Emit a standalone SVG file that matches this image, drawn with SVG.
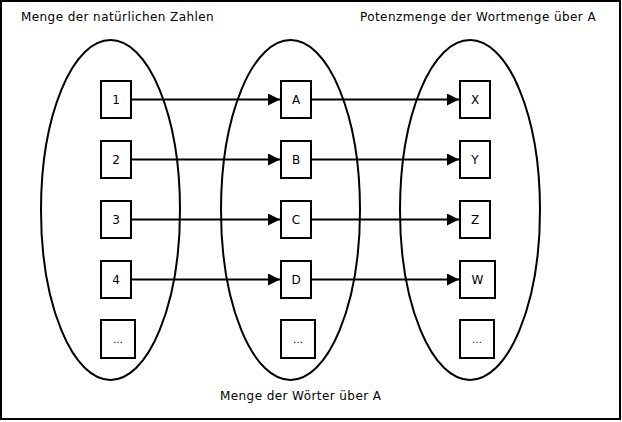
<svg xmlns="http://www.w3.org/2000/svg" width="622" height="422" viewBox="0 0 622 422">
<defs>
<marker id="ah" viewBox="0 0 12 12" refX="12" refY="6" markerWidth="12" markerHeight="12" markerUnits="userSpaceOnUse" orient="auto">
<path d="M0,0 L12,6 L0,12 Z" fill="#000"/>
</marker>
<style>
.set{fill:none;stroke:#000;stroke-width:2}
.box{fill:#fff;stroke:#000;stroke-width:2}
.lbl{font-family:"DejaVu Sans",sans-serif;font-size:12px;letter-spacing:0.42px;fill:#000}
.t{font-family:"DejaVu Sans",sans-serif;font-size:12px;fill:#000;text-anchor:middle}
.d{font-family:"DejaVu Sans",sans-serif;font-size:10px;fill:#000;text-anchor:middle}
.e{stroke:#000;stroke-width:2;fill:none;marker-end:url(#ah)}
</style>
</defs>
<rect x="1" y="1" width="619" height="418" fill="#fff" stroke="#000" stroke-width="2"/>
<g id="sets">
<ellipse class="set" cx="110.5" cy="210" rx="69.5" ry="170"/>
<ellipse class="set" cx="290.5" cy="210" rx="69.5" ry="170"/>
<ellipse class="set" cx="470" cy="210" rx="70" ry="170"/>
</g>
<text class="lbl" x="21" y="21">Menge der natürlichen Zahlen</text>
<text class="lbl" x="360" y="21">Potenzmenge der Wortmenge über A</text>
<text class="lbl" x="220" y="400">Menge der Wörter über A</text>
<g id="connectors">
<line class="e" x1="131" y1="99.5" x2="280" y2="99.5"/>
<line class="e" x1="131" y1="159.5" x2="280" y2="159.5"/>
<line class="e" x1="131" y1="219.5" x2="280" y2="219.5"/>
<line class="e" x1="131" y1="279.5" x2="280" y2="279.5"/>
<line class="e" x1="311" y1="99.5" x2="459" y2="99.5"/>
<line class="e" x1="311" y1="159.5" x2="459" y2="159.5"/>
<line class="e" x1="311" y1="219.5" x2="459" y2="219.5"/>
<line class="e" x1="311" y1="279.5" x2="459" y2="279.5"/>
</g>
<g id="n1"><rect class="box" x="101" y="81" width="30" height="37"/><text class="t" x="116" y="104">1</text></g>
<g id="n2"><rect class="box" x="101" y="141" width="30" height="37"/><text class="t" x="116" y="164">2</text></g>
<g id="n3"><rect class="box" x="101" y="201" width="30" height="37"/><text class="t" x="116" y="224">3</text></g>
<g id="n4"><rect class="box" x="101" y="261" width="30" height="37"/><text class="t" x="116" y="284">4</text></g>
<g id="n5"><rect class="box" x="101" y="320" width="34" height="38"/><text class="d" x="118" y="343">…</text></g>
<g id="nA"><rect class="box" x="281" y="81" width="30" height="37"/><text class="t" x="296" y="104">A</text></g>
<g id="nB"><rect class="box" x="281" y="141" width="30" height="37"/><text class="t" x="296" y="164">B</text></g>
<g id="nC"><rect class="box" x="281" y="201" width="30" height="37"/><text class="t" x="296" y="224">C</text></g>
<g id="nD"><rect class="box" x="281" y="261" width="30" height="37"/><text class="t" x="296" y="284">D</text></g>
<g id="nE"><rect class="box" x="281" y="320" width="34" height="38"/><text class="d" x="298" y="343">…</text></g>
<g id="nX"><rect class="box" x="460" y="81" width="30" height="37"/><text class="t" x="475" y="104">X</text></g>
<g id="nY"><rect class="box" x="460" y="141" width="30" height="37"/><text class="t" x="475" y="164">Y</text></g>
<g id="nZ"><rect class="box" x="460" y="201" width="30" height="37"/><text class="t" x="475" y="224">Z</text></g>
<g id="nW"><rect class="box" x="460" y="261" width="35" height="37"/><text class="t" x="477.5" y="284">W</text></g>
<g id="nF"><rect class="box" x="460" y="320" width="34" height="38"/><text class="d" x="477" y="343">…</text></g>
</svg>
